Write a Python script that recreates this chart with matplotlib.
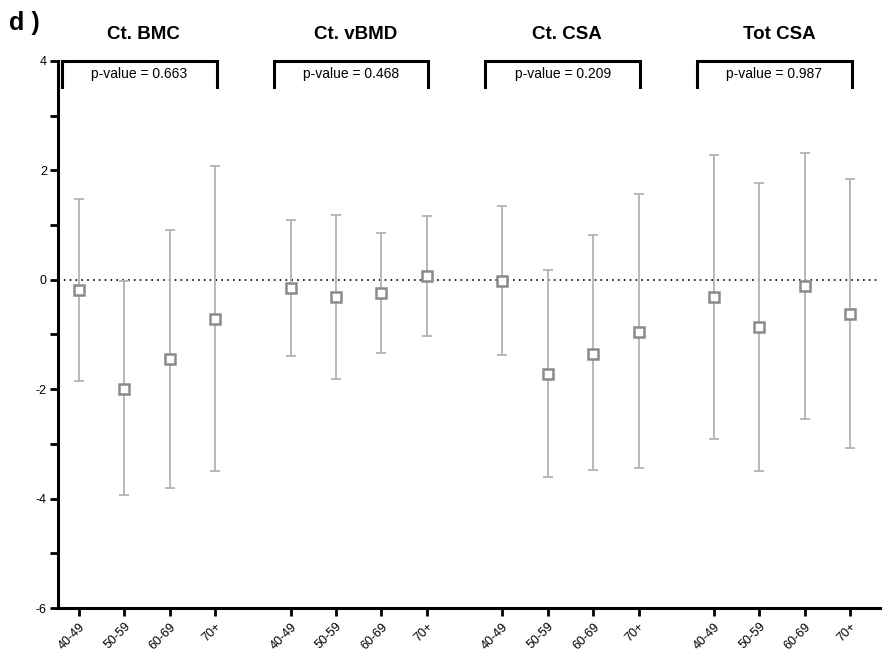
import numpy as np
import matplotlib.pyplot as plt

plt.rcParams['font.family'] = ['Liberation Sans', 'DejaVu Sans']
plt.rcParams['axes.unicode_minus'] = False

groups = ["Ct. BMC", "Ct. vBMD", "Ct. CSA", "Tot CSA"]
p_values = ["0.663", "0.468", "0.209", "0.987"]
age_bins = ["40-49", "50-59", "60-69", "70+"]

# mean difference with lower / upper limits, per group (rows) and age bin (cols)
means = [
    [-0.18, -2.00, -1.45, -0.71],
    [-0.15, -0.32, -0.25, 0.07],
    [-0.03, -1.72, -1.35, -0.95],
    [-0.31, -0.87, -0.11, -0.62],
]
lower = [
    [-1.85, -3.93, -3.80, -3.49],
    [-1.40, -1.82, -1.33, -1.03],
    [-1.38, -3.60, -3.48, -3.44],
    [-2.91, -3.50, -2.54, -3.08],
]
upper = [
    [1.48, -0.02, 0.91, 2.08],
    [1.10, 1.18, 0.85, 1.17],
    [1.35, 0.17, 0.81, 1.56],
    [2.28, 1.77, 2.32, 1.84],
]

means = np.array(means)
lower = np.array(lower)
upper = np.array(upper)

fig = plt.figure(figsize=(8.88, 6.68), dpi=100)
ax = fig.add_axes([0.0653, 0.0898, 0.926, 0.819])

step = 4.66
xs_all = []
for g in range(len(groups)):
    xs = g * step + np.arange(len(age_bins))
    xs_all.extend(xs)
    m = means[g]
    err = [m - lower[g], upper[g] - m]
    ax.errorbar(xs, m, yerr=err, fmt='none', ecolor='#b3b3b3', elinewidth=1.3,
                capsize=3.5, capthick=1.3, zorder=2)
    ax.plot(xs, m, 's', ms=7.5, mfc='white', mec='#8a8a8a', mew=1.8, zorder=3)

    # bracket with p-value
    x0, x1 = xs[0] - 0.37, xs[-1] + 0.03
    ax.plot([x0, x0, x1, x1], [3.52, 4.0, 4.0, 3.52], color='black', lw=2.2,
            clip_on=False, solid_joinstyle='miter', zorder=4)
    ax.text((x0 + x1) / 2, 3.76, "p-value = " + p_values[g], ha='center', va='center',
            fontsize=10)
    ax.text((x0 + x1) / 2 + 0.1, 4.48, groups[g], ha='center', va='center',
            fontsize=13.5, fontweight='bold')

ax.axhline(0, color='black', ls=(0, (1, 2.5)), lw=1.2, zorder=1)

ax.set_xlim(-0.46, 17.64)
ax.set_ylim(-6, 4)
ax.set_xticks(xs_all)
ax.set_xticklabels(age_bins * len(groups), rotation=45, ha='right',
                   rotation_mode='anchor', fontsize=9)
ax.set_yticks([-6, -4, -2, 0, 2, 4])
ax.set_yticks(np.arange(-5, 4, 2), minor=True)
ax.tick_params(axis='y', which='both', length=6, width=2, labelsize=9, pad=2)
ax.tick_params(axis='x', length=6, width=2, pad=3)
for s in ['top', 'right']:
    ax.spines[s].set_visible(False)
for s in ['left', 'bottom']:
    ax.spines[s].set_linewidth(2.2)

fig.text(0.01, 0.965, "d )", fontsize=18, fontweight='bold', va='center')

fig.savefig("out.png", dpi=100)
